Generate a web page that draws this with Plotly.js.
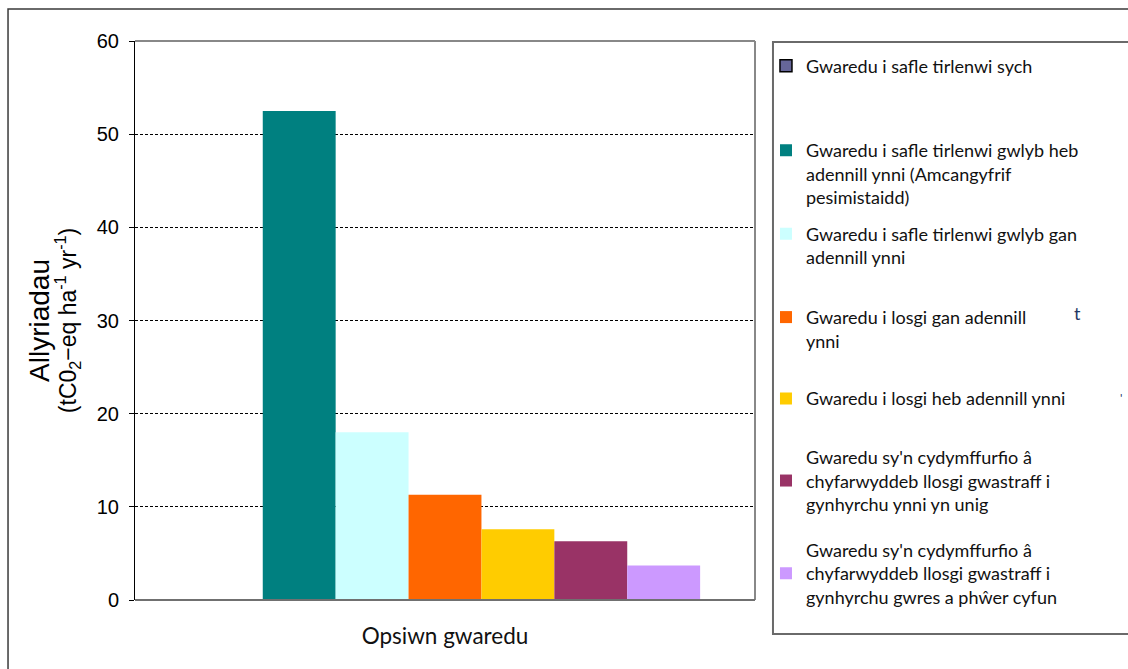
<!DOCTYPE html>
<html>
<head>
<meta charset="utf-8">
<script src="https://cdn.plot.ly/plotly-3.0.1.min.js"></script>
<style>
  html, body { margin: 0; padding: 0; background: #ffffff; }
  #chart { width: 1128px; height: 669px; }
</style>
</head>
<body>
<div id="chart"></div>
<script>
// Disposal options and their emissions (tCO2-eq per ha per year)
const category = ['Opsiwn gwaredu'];
const optionNames = [
  'Gwaredu i safle tirlenwi sych',
  'Gwaredu i safle tirlenwi gwlyb heb<br>adennill ynni (Amcangyfrif<br>pesimistaidd)',
  'Gwaredu i safle tirlenwi gwlyb gan<br>adennill ynni',
  'Gwaredu i losgi gan adennill<br>ynni',
  'Gwaredu i losgi heb adennill ynni',
  "Gwaredu sy'n cydymffurfio â<br>chyfarwyddeb llosgi gwastraff i<br>gynhyrchu ynni yn unig",
  "Gwaredu sy'n cydymffurfio â<br>chyfarwyddeb llosgi gwastraff i<br>gynhyrchu gwres a phŵer cyfun"
];
const emissions = [0, 52.5, 18.0, 11.3, 7.6, 6.3, 3.7];
const barColors = ['#666699', '#008080', '#CCFFFF', '#FF6600', '#FFCC00', '#993366', '#CC99FF'];
const yTicks = [0, 10, 20, 30, 40, 50, 60];

// Each option gets its own legend block so the entries can be spaced like a tall key box
const legendY = [0.955, 0.762, 0.634, 0.485, 0.360, 0.213, 0.047];
const legendVAlign = ['middle', 'top', 'top', 'top', 'middle', 'middle', 'middle'];

const legendFont = { family: 'Lato, "Open Sans", sans-serif', size: 18, color: '#111111' };

const traces = optionNames.map((name, i) => ({
  type: 'bar',
  name: name,
  x: category,
  y: [emissions[i]],
  marker: {
    color: barColors[i],
    line: i === 0 ? { color: '#000000', width: 1.5 } : { width: 0 }
  },
  legend: i === 0 ? 'legend' : 'legend' + (i + 1),
  hoverinfo: 'y+name'
}));

const layout = {
  width: 1128,
  height: 669,
  paper_bgcolor: '#ffffff',
  plot_bgcolor: '#ffffff',
  margin: { l: 135, r: 373, t: 41, b: 69 },
  barmode: 'group',
  bargap: 0.177,
  bargroupgap: 0,
  showlegend: true,
  xaxis: {
    type: 'category',
    showticklabels: false,
    ticks: '',
    showline: false,
    showgrid: false,
    zeroline: false,
    title: {
      text: 'Opsiwn gwaredu',
      font: { family: 'Lato, "Open Sans", sans-serif', size: 22.5, color: '#111111' },
      standoff: 28
    }
  },
  yaxis: {
    range: [0, 60],
    tickvals: yTicks,
    ticktext: yTicks.map(String),
    ticks: 'outside',
    ticklen: 5,
    tickcolor: '#000000',
    tickwidth: 1,
    ticklabelstandoff: 6,
    tickfont: { family: '"Liberation Sans", Arial, sans-serif', size: 20, color: '#000000' },
    showline: true,
    linecolor: '#000000',
    linewidth: 1,
    showgrid: true,
    gridcolor: '#000000',
    gridwidth: 1,
    griddash: '3px,2px',
    zeroline: false,
    title: {
      // small base size keeps the two lines close; each line sets its own size
      text: '<span style="font-size:28px">Allyriadau</span><br><span style="font-size:23px">(tC0<sub>2</sub>−eq ha<sup>-1</sup> yr<sup>-1</sup>)</span>',
      font: { family: '"Liberation Sans", Arial, sans-serif', size: 20.5, color: '#000000' },
      standoff: 14
    }
  },
  shapes: [
    // outer frame of the figure
    { type: 'rect', xref: 'paper', yref: 'paper', x0: -0.2048, x1: 3, y0: -1, y1: 1.0572,
      line: { color: '#3a3a3a', width: 1.5 }, fillcolor: 'rgba(0,0,0,0)', layer: 'below' },
    // plot area frame (top, right, bottom)
    { type: 'line', xref: 'paper', yref: 'paper', x0: 0, x1: 1, y0: 1, y1: 1,
      line: { color: '#888888', width: 2 } },
    { type: 'line', xref: 'paper', yref: 'paper', x0: 1, x1: 1, y0: 0, y1: 1,
      line: { color: '#888888', width: 2 } },
    { type: 'line', xref: 'paper', yref: 'paper', x0: 0, x1: 1, y0: 0, y1: 0,
      line: { color: '#707070', width: 2 } },
    // key box
    { type: 'rect', xref: 'paper', yref: 'paper', x0: 1.029, x1: 3, y0: -0.0608, y1: 0.9982,
      line: { color: '#6a6a6a', width: 2 }, fillcolor: 'rgba(0,0,0,0)' }
  ],
  annotations: [
    { xref: 'paper', yref: 'paper', x: 1.529, y: 0.5134, text: 't', showarrow: false,
      font: { family: 'Lato, sans-serif', size: 18, color: '#1F3864' } },
    { xref: 'paper', yref: 'paper', x: 1.595, y: 0.3614, text: "'", showarrow: false,
      font: { family: 'Lato, sans-serif', size: 12, color: '#1F3864' } }
  ]
};

optionNames.forEach((_, i) => {
  const key = i === 0 ? 'legend' : 'legend' + (i + 1);
  layout[key] = {
    x: 1.0177,
    xanchor: 'left',
    y: legendY[i],
    yanchor: 'middle',
    bgcolor: 'rgba(0,0,0,0)',
    borderwidth: 0,
    font: legendFont,
    valign: legendVAlign[i],
    itemclick: false,
    itemdoubleclick: false
  };
});

Plotly.newPlot('chart', traces, layout, { displayModeBar: false, staticPlot: false });
</script>
</body>
</html>
